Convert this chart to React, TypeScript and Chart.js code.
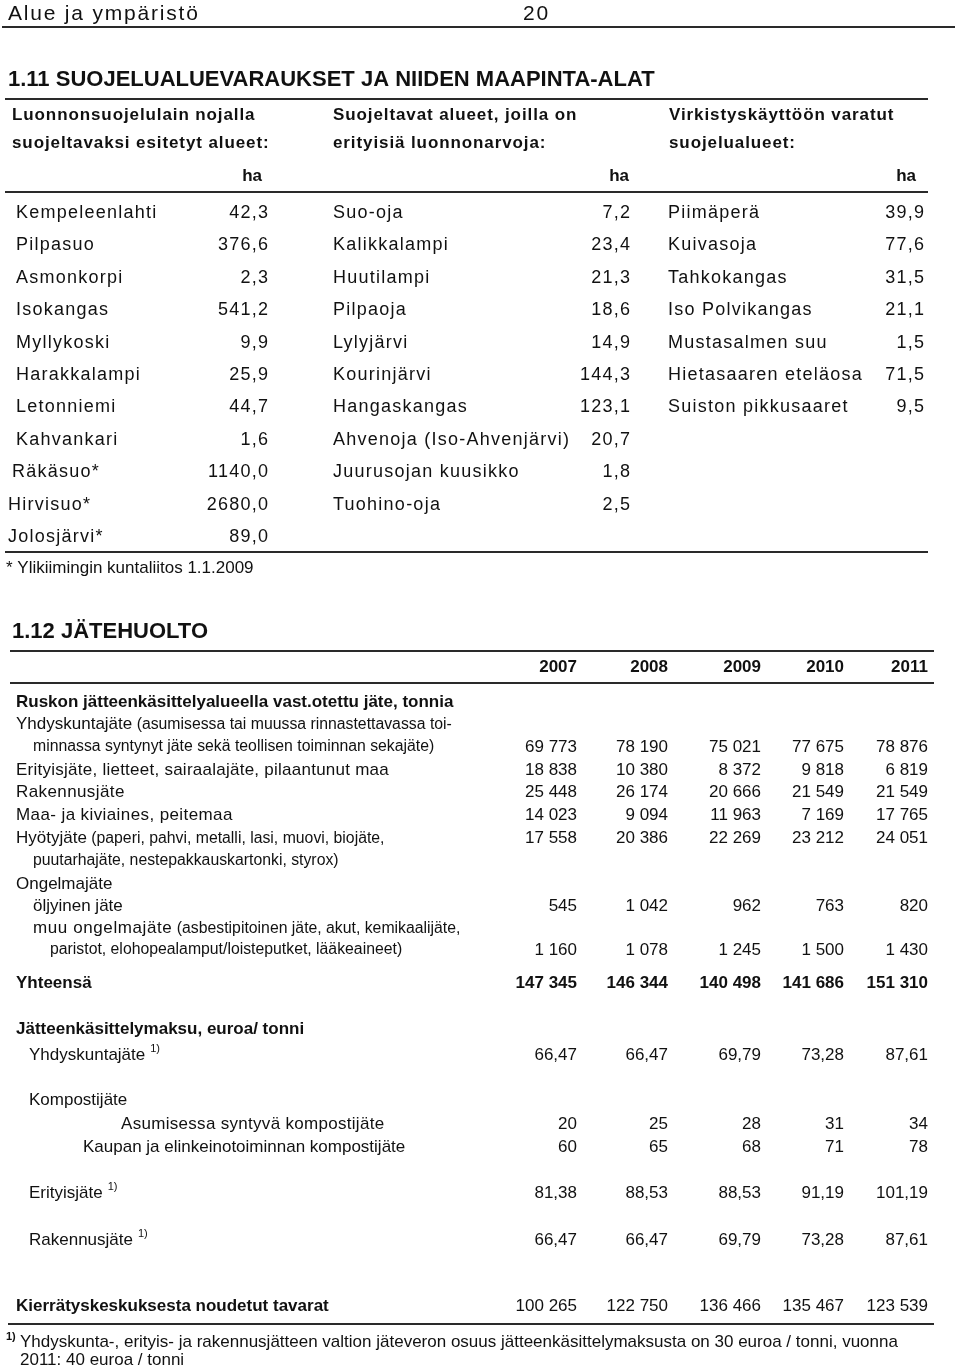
import React, { useEffect, useRef } from "react";
import { Chart, registerables } from "chart.js";

Chart.register(...registerables);

// ---------- DATA ----------
const pageTitle = "Alue ja ympäristö";
const pageNumber = "20";
const section1Title = "1.11 SUOJELUALUEVARAUKSET JA NIIDEN MAAPINTA-ALAT";
const colHeaders1 = [
  ["Luonnonsuojelulain nojalla", "suojeltavaksi esitetyt alueet:"],
  ["Suojeltavat alueet, joilla on", "erityisiä luonnonarvoja:"],
  ["Virkistyskäyttöön varatut", "suojelualueet:"],
];
const unitLabel = "ha";

const protectedNames = [
  "Kempeleenlahti", "Pilpasuo", "Asmonkorpi", "Isokangas", "Myllykoski", "Harakkalampi",
  "Letonniemi", "Kahvankari", "Räkäsuo*", "Hirvisuo*", "Jolosjärvi*",
];
const protectedHa = [42.3, 376.6, 2.3, 541.2, 9.9, 25.9, 44.7, 1.6, 1140.0, 2680.0, 89.0];

const valuableNames = [
  "Suo-oja", "Kalikkalampi", "Huutilampi", "Pilpaoja", "Lylyjärvi", "Kourinjärvi",
  "Hangaskangas", "Ahvenoja (Iso-Ahvenjärvi)", "Juurusojan kuusikko", "Tuohino-oja",
];
const valuableHa = [7.2, 23.4, 21.3, 18.6, 14.9, 144.3, 123.1, 20.7, 1.8, 2.5];

const recreationNames = [
  "Piimäperä", "Kuivasoja", "Tahkokangas", "Iso Polvikangas", "Mustasalmen suu",
  "Hietasaaren eteläosa", "Suiston pikkusaaret",
];
const recreationHa = [39.9, 77.6, 31.5, 21.1, 1.5, 71.5, 9.5];

const section1Note = "* Ylikiimingin kuntaliitos 1.1.2009";

const section2Title = "1.12 JÄTEHUOLTO";
const years = [2007, 2008, 2009, 2010, 2011];

const wasteHeading = "Ruskon jätteenkäsittelyalueella vast.otettu jäte, tonnia";
const municipalWaste = [69773, 78190, 75021, 77675, 78876];
const specialWaste = [18838, 10380, 8372, 9818, 6819];
const constructionWaste = [25448, 26174, 20666, 21549, 21549];
const soilWaste = [14023, 9094, 11963, 7169, 17765];
const recyclableWaste = [17558, 20386, 22269, 23212, 24051];
const oilyWaste = [545, 1042, 962, 763, 820];
const otherHazardousWaste = [1160, 1078, 1245, 1500, 1430];
const totalWaste = [147345, 146344, 140498, 141686, 151310];

const feeHeading = "Jätteenkäsittelymaksu, euroa/ tonni";
const feeMunicipal = [66.47, 66.47, 69.79, 73.28, 87.61];
const feeCompostHousing = [20, 25, 28, 31, 34];
const feeCompostBusiness = [60, 65, 68, 71, 78];
const feeSpecial = [81.38, 88.53, 88.53, 91.19, 101.19];
const feeConstruction = [66.47, 66.47, 69.79, 73.28, 87.61];

const recycleCentreLabel = "Kierrätyskeskuksesta noudetut tavarat";
const recycleCentreItems = [100265, 122750, 136466, 135467, 123539];

const footnoteLines = [
  "Yhdyskunta-, erityis- ja rakennusjätteen valtion jäteveron osuus jätteenkäsittelymaksusta on 30 euroa / tonni, vuonna",
  "2011: 40 euroa / tonni",
];

// ---------- FORMAT ----------
const fmt1 = (v: number) => v.toFixed(1).replace(".", ",");
const fmt2 = (v: number) => v.toFixed(2).replace(".", ",");
const fmtInt = (v: number) => String(Math.round(v)).replace(/\B(?=(\d{3})+(?!\d))/g, " ");

const FONT = '"Liberation Sans", Arial, Helvetica, sans-serif';
const INK = "#111111";
const RULE = "#2a2a2a";

type TOpt = { size?: number; bold?: boolean; align?: "left" | "right"; sp?: number };

function drawText(ctx: CanvasRenderingContext2D, s: string, x: number, y: number, o: TOpt = {}): number {
  const size = o.size ?? 17;
  const sp = o.sp ?? 0;
  const align = o.align ?? "left";
  ctx.font = `${o.bold ? "bold " : ""}${size}px ${FONT}`;
  ctx.textBaseline = "middle";
  ctx.fillStyle = INK;
  const anyCtx = ctx as any;
  if (sp === 0) {
    ctx.textAlign = align;
    ctx.fillText(s, x, y);
    const w = ctx.measureText(s).width;
    return align === "left" ? x + w : x;
  }
  if ("letterSpacing" in anyCtx) {
    anyCtx.letterSpacing = `${sp}px`;
    ctx.textAlign = align;
    ctx.fillText(s, align === "right" ? x + sp : x, y);
    const w = ctx.measureText(s).width;
    anyCtx.letterSpacing = "0px";
    return align === "left" ? x + w : x;
  }
  const chars = Array.from(s);
  const widths = chars.map((c) => ctx.measureText(c).width);
  const total = widths.reduce((a, b) => a + b, 0) + sp * (chars.length - 1);
  let cx = align === "right" ? x - total : x;
  ctx.textAlign = "left";
  chars.forEach((c, i) => {
    ctx.fillText(c, cx, y);
    cx += widths[i] + sp;
  });
  return align === "left" ? cx : x;
}

const tablePlugin = {
  id: "tableText",
  afterDraw(chart: any) {
    const ctx: CanvasRenderingContext2D = chart.ctx;
    const xs = chart.scales.x;
    const ys = chart.scales.y;
    const X = (v: number) => xs.getPixelForValue(v);
    const Y = (v: number) => ys.getPixelForValue(v);
    ctx.save();

    const rule = (y: number, x1: number, x2: number) => {
      ctx.strokeStyle = RULE;
      ctx.lineWidth = 2;
      ctx.beginPath();
      ctx.moveTo(X(x1), Y(y));
      ctx.lineTo(X(x2), Y(y));
      ctx.stroke();
    };
    const t = (s: string, x: number, y: number, o?: TOpt) => drawText(ctx, s, X(x), Y(y), o);

    // Page header
    t(pageTitle, 8, 14, { size: 21, sp: 1.8 });
    t(pageNumber, 523, 14, { size: 21, sp: 1.8 });
    rule(27, 2, 955);

    // Section 1
    t(section1Title, 8, 80, { size: 22, bold: true });
    rule(99, 5, 928);
    const hx = [12, 333, 669];
    colHeaders1.forEach((lines, i) => {
      t(lines[0], hx[i], 115, { bold: true, sp: 0.9 });
      t(lines[1], hx[i], 143, { bold: true, sp: 0.9 });
    });
    const unitRight = [262, 629, 916];
    unitRight.forEach((ux) => t(unitLabel, ux, 176, { bold: true, align: "right" }));
    rule(192, 5, 928);

    const rowY = (i: number) => 213 + i * 32.4;
    const body = { size: 18, sp: 1.25 };
    const col1X = [16, 16, 16, 16, 16, 16, 16, 16, 12, 8, 8];
    protectedNames.forEach((n, i) => {
      t(n, col1X[i], rowY(i), body);
      t(fmt1(protectedHa[i]), 268, rowY(i), { ...body, align: "right" });
    });
    valuableNames.forEach((n, i) => {
      t(n, 333, rowY(i), body);
      t(fmt1(valuableHa[i]), 630, rowY(i), { ...body, align: "right" });
    });
    recreationNames.forEach((n, i) => {
      t(n, 668, rowY(i), body);
      t(fmt1(recreationHa[i]), 924, rowY(i), { ...body, align: "right" });
    });
    rule(552, 5, 928);
    t(section1Note, 6, 568, { size: 17 });

    // Section 2
    t(section2Title, 12, 632, { size: 22, bold: true });
    rule(651, 10, 934);
    const vx = [577, 668, 761, 844, 928];
    years.forEach((yr, i) => t(String(yr), vx[i], 667, { bold: true, align: "right" }));
    rule(683, 10, 934);

    const values = (arr: number[], y: number, f: (v: number) => string, bold = false) =>
      arr.forEach((v, i) => t(f(v), vx[i], y, { align: "right", bold }));

    t(wasteHeading, 16, 702, { bold: true });

    let e = t("Yhdyskuntajäte", 16, 724);
    t(" (asumisessa tai muussa rinnastettavassa toi-", e, 725, { size: 15.8 });
    t("minnassa syntynyt jäte sekä teollisen toiminnan sekajäte)", 33, 747, { size: 15.8 });
    values(municipalWaste, 747, fmtInt);

    t("Erityisjäte, lietteet, sairaalajäte, pilaantunut maa", 16, 770, { sp: 0.25 });
    values(specialWaste, 770, fmtInt);

    t("Rakennusjäte", 16, 792, { sp: 0.4 });
    values(constructionWaste, 792, fmtInt);

    t("Maa- ja kiviaines, peitemaa", 16, 815, { sp: 0.4 });
    values(soilWaste, 815, fmtInt);

    e = t("Hyötyjäte", 16, 838);
    t(" (paperi, pahvi, metalli, lasi, muovi, biojäte,", e, 839, { size: 15.8 });
    values(recyclableWaste, 838, fmtInt);
    t("puutarhajäte, nestepakkauskartonki, styrox)", 33, 861, { size: 15.8 });

    t("Ongelmajäte", 16, 884);
    t("öljyinen jäte", 33, 906);
    values(oilyWaste, 906, fmtInt);

    e = t("muu ongelmajäte", 33, 928, { sp: 0.6 });
    t(" (asbestipitoinen jäte, akut, kemikaalijäte,", e, 929, { size: 15.8 });
    t("paristot, elohopealamput/loisteputket, lääkeaineet)", 50, 950, { size: 15.8 });
    values(otherHazardousWaste, 950, fmtInt);

    t("Yhteensä", 16, 983, { bold: true });
    values(totalWaste, 983, fmtInt, true);

    t(feeHeading, 16, 1029, { bold: true });

    const sup = (x: number, y: number) => t("1)", x, y, { size: 11 });

    e = t("Yhdyskuntajäte", 29, 1055);
    sup(e + 5, 1049);
    values(feeMunicipal, 1055, fmt2);

    t("Kompostijäte", 29, 1100);
    t("Asumisessa syntyvä kompostijäte", 121, 1124, { sp: 0.3 });
    values(feeCompostHousing, 1124, fmtInt);
    t("Kaupan ja elinkeinotoiminnan kompostijäte", 83, 1147);
    values(feeCompostBusiness, 1147, fmtInt);

    e = t("Erityisjäte", 29, 1193);
    sup(e + 5, 1187);
    values(feeSpecial, 1193, fmt2);

    e = t("Rakennusjäte", 29, 1240);
    sup(e + 5, 1234);
    values(feeConstruction, 1240, fmt2);

    t(recycleCentreLabel, 16, 1306, { bold: true });
    values(recycleCentreItems, 1306, fmtInt);
    rule(1324, 8, 934);

    t("1)", 6, 1337, { size: 11, bold: true });
    t(footnoteLines[0], 20, 1342);
    t(footnoteLines[1], 20, 1360);

    ctx.restore();
  },
};

export default function App() {
  const ref = useRef<HTMLCanvasElement | null>(null);
  useEffect(() => {
    if (!ref.current) return;
    const chart = new Chart(ref.current, {
      type: "scatter",
      data: { datasets: [] },
      options: {
        animation: false,
        responsive: false,
        maintainAspectRatio: false,
        events: [],
        layout: { padding: 0 },
        plugins: { legend: { display: false }, tooltip: { enabled: false } },
        scales: {
          x: { type: "linear", min: 0, max: 960, display: false },
          y: { type: "linear", min: 0, max: 1370, reverse: true, display: false },
        },
      },
      plugins: [tablePlugin],
    } as any);
    return () => chart.destroy();
  }, []);
  return (
    <div style={{ position: "absolute", left: 0, top: 0, width: 960, height: 1370, background: "#fff" }}>
      <canvas ref={ref} width={960} height={1370} style={{ display: "block", width: 960, height: 1370 }} />
    </div>
  );
}
